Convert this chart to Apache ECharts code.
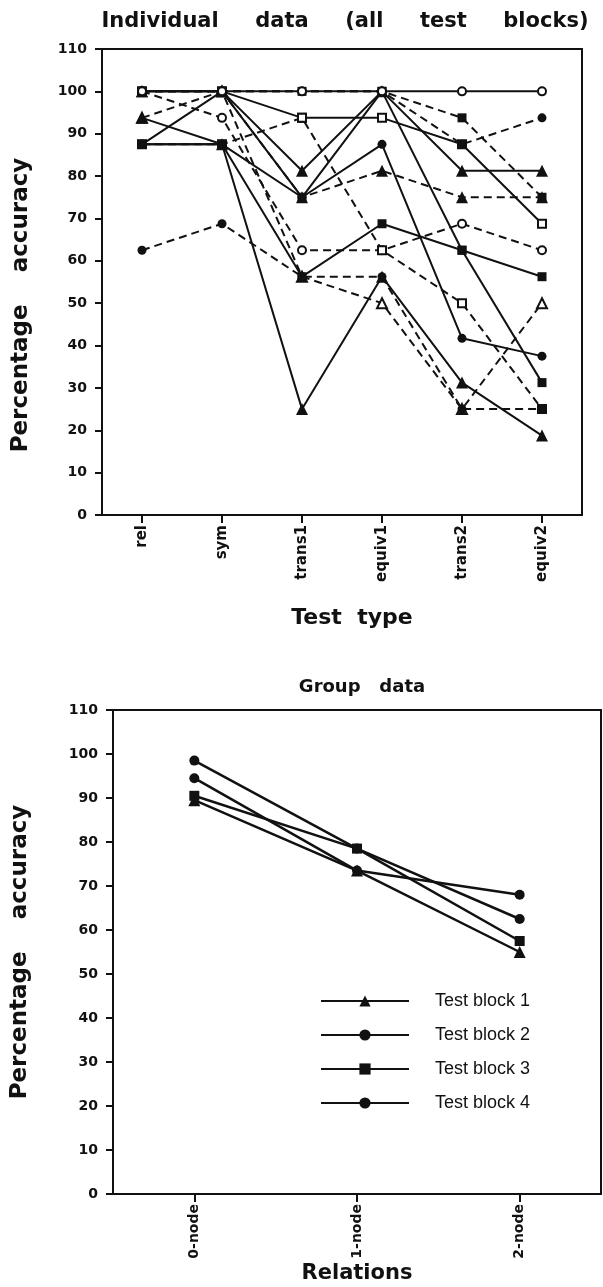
<!DOCTYPE html>
<html lang="en">
<head>
<meta charset="UTF-8">
<title>Individual and group data</title>
<script src="https://cdn.jsdelivr.net/npm/echarts@6/dist/echarts.min.js"></script>
<style>
  html, body { margin: 0; padding: 0; background: #fff; }
  #chart { width: 603px; height: 1287px; }
</style>
</head>
<body>
<div id="chart"></div>
<script>
// categories
var testTypes = ['rel', 'sym', 'trans1', 'equiv1', 'trans2', 'equiv2'];
var relations = ['0-node', '1-node', '2-node'];

// individual subjects (percentage accuracy per test type)
var subj1  = [100, 100, 100, 100, 100, 100];
var subj2  = [100, 100, 100, 100, 87.5, 93.75];
var subj3  = [100, 100, 100, 100, 93.75, 75];
var subj4  = [100, 100, 81.25, 100, 81.25, 81.25];
var subj5  = [87.5, 100, 75, 100, 62.5, 31.25];
var subj6  = [100, 100, 93.75, 93.75, 87.5, 68.75];
var subj7  = [87.5, 87.5, 75, 87.5, 41.7, 37.5];
var subj8  = [100, 100, 75, 81.25, 75, 75];
var subj9  = [87.5, 87.5, 56.25, 68.75, 62.5, 56.25];
var subj10 = [100, 93.75, 62.5, 62.5, 68.75, 62.5];
var subj11 = [87.5, 87.5, 93.75, 62.5, 50, 25];
var subj12 = [93.75, 87.5, 25, 56.25, 31.25, 18.75];
var subj13 = [62.5, 68.75, 56.25, 56.25, 25, 25];
var subj14 = [93.75, 100, 56.25, 50, 25, 50];

// group data per test block
var block1 = [89.5, 73.5, 55];
var block2 = [94.5, 73.5, 68];
var block3 = [90.5, 78.5, 57.5];
var block4 = [98.5, 78.5, 62.5];

var bold = "'DejaVu Sans', sans-serif";
var plain = "'Liberation Sans', Arial, sans-serif";
var ink = '#111';

function subj(name, data, dashed, symbol, z) {
  var hollow = symbol.indexOf('empty') === 0;
  var tri = symbol.indexOf('riangle') > 0;
  return {
    name: name,
    type: 'line',
    xAxisIndex: 0,
    yAxisIndex: 0,
    data: data,
    symbol: symbol,
    symbolSize: tri ? (hollow ? 10 : 12) : (hollow ? 8 : 9),
    showAllSymbol: true,
    lineStyle: { color: ink, width: 2, type: dashed ? [8, 5] : 'solid' },
    itemStyle: { color: ink, borderColor: ink, borderWidth: hollow ? 2 : 0 },
    emphasis: { disabled: true },
    z: z || (hollow ? 2 : 3)
  };
}

function block(name, data, symbol) {
  return {
    name: name,
    type: 'line',
    xAxisIndex: 1,
    yAxisIndex: 1,
    data: data,
    symbol: symbol,
    symbolSize: symbol == 'triangle' ? 12 : 10,
    lineStyle: { color: ink, width: 2.5 },
    itemStyle: { color: ink },
    emphasis: { disabled: true }
  };
}

function valueAxis(grid, gap, pad) {
  return {
    type: 'value',
    gridIndex: grid,
    min: 0,
    max: 110,
    interval: 10,
    name: 'Percentage    accuracy',
    nameLocation: 'middle',
    nameGap: gap,
    nameTextStyle: { fontFamily: bold, fontSize: 23, fontWeight: 'bold', color: ink, padding: pad },
    axisLine: { show: true, lineStyle: { color: ink, width: 2 } },
    axisTick: { show: true, length: 7, lineStyle: { color: ink, width: 2 } },
    axisLabel: { fontFamily: bold, fontSize: 14, fontWeight: 'bold', color: ink, margin: 15 },
    splitLine: { show: false }
  };
}

function catAxis(grid, cats, name, gap, size, nameSize, pad) {
  return {
    type: 'category',
    gridIndex: grid,
    data: cats,
    boundaryGap: true,
    name: name,
    nameLocation: 'middle',
    nameGap: gap,
    nameTextStyle: { fontFamily: bold, fontSize: nameSize, fontWeight: 'bold', color: ink, padding: pad },
    axisLine: { show: true, lineStyle: { color: ink, width: 2 } },
    axisTick: { show: true, alignWithLabel: true, length: 8, lineStyle: { color: ink, width: 2 } },
    axisLabel: { rotate: 90, fontFamily: bold, fontSize: size, fontWeight: 'bold', color: ink, margin: 10, interval: 0 },
    splitLine: { show: false }
  };
}

var chart = echarts.init(document.getElementById('chart'), null, { renderer: 'canvas' });

chart.setOption({
  animation: false,
  backgroundColor: '#fff',
  title: [
    {
      text: 'Individual     data     (all     test     blocks)',
      left: 340, top: 6, textAlign: 'center',
      textStyle: { fontFamily: bold, fontSize: 21, fontWeight: 'bold', color: ink }
    },
    {
      text: 'Group   data',
      left: 357, top: 673, textAlign: 'center',
      textStyle: { fontFamily: bold, fontSize: 18, fontWeight: 'bold', color: ink }
    }
  ],
  legend: {
    data: ['Test block 1', 'Test block 2', 'Test block 3', 'Test block 4'],
    orient: 'vertical',
    left: 315,
    top: 987,
    itemWidth: 88,
    itemHeight: 14,
    itemGap: 16,
    selectedMode: false,
    textStyle: { fontFamily: plain, fontSize: 18, color: ink, padding: [0, 0, 0, 21] }
  },
  grid: [
    { left: 102, top: 49, width: 480, height: 466, show: true, borderColor: ink, borderWidth: 2 },
    { left: 113, top: 710, width: 488, height: 484, show: true, borderColor: ink, borderWidth: 2 }
  ],
  xAxis: [
    catAxis(0, testTypes, 'Test  type', 92, 15, 22, [0, 0, 0, 20]),
    catAxis(1, relations, 'Relations', 69, 14, 21, [0, 0, 0, 0])
  ],
  yAxis: [
    valueAxis(0, 69, [0, 46, 0, 0]),
    valueAxis(1, 81, [0, 0, 0, 0])
  ],
  series: [
    subj('S1', subj1, false, 'emptyCircle', 4),
    subj('S2', subj2, true, 'circle'),
    subj('S3', subj3, true, 'rect'),
    subj('S4', subj4, false, 'triangle'),
    subj('S5', subj5, false, 'rect'),
    subj('S6', subj6, false, 'emptyRect'),
    subj('S7', subj7, false, 'circle'),
    subj('S8', subj8, true, 'triangle'),
    subj('S9', subj9, false, 'rect'),
    subj('S10', subj10, true, 'emptyCircle'),
    subj('S11', subj11, true, 'emptyRect'),
    subj('S12', subj12, false, 'triangle'),
    subj('S13', subj13, true, 'circle'),
    subj('S14', subj14, true, 'emptyTriangle'),
    block('Test block 1', block1, 'triangle'),
    block('Test block 2', block2, 'circle'),
    block('Test block 3', block3, 'rect'),
    block('Test block 4', block4, 'circle')
  ]
});
</script>
</body>
</html>
